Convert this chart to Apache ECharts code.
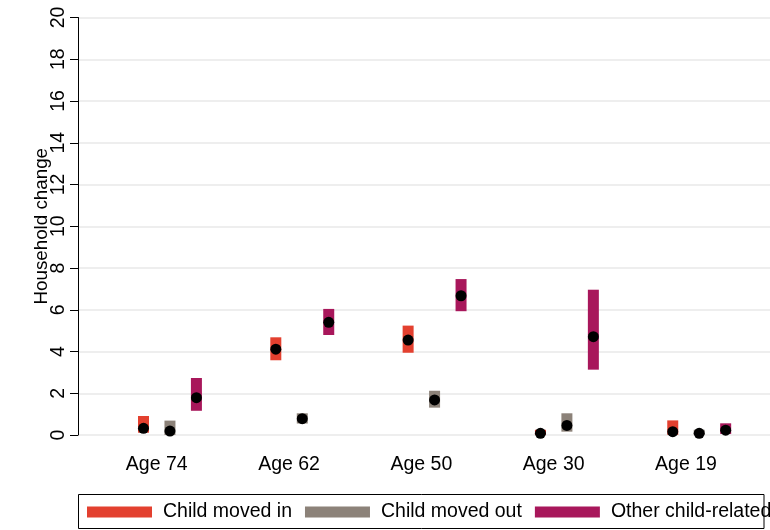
<!DOCTYPE html>
<html>
<head>
<meta charset="utf-8">
<script src="https://cdn.jsdelivr.net/npm/echarts@6/dist/echarts.min.js"></script>
<style>
  html, body { margin: 0; padding: 0; background: #fff; }
  #chart { width: 770px; height: 530px; }
</style>
</head>
<body>
<div id="chart"></div>
<script>
// Household change by age group: mean (dot) and confidence interval (bar)
const categories = ['Age 74', 'Age 62', 'Age 50', 'Age 30', 'Age 19'];
const seriesNames = ['Child moved in', 'Child moved out', 'Other child-related'];
const yTicks = [0, 20, 2]; // min, max, step

const movedInMean = [0.32, 4.11, 4.55, 0.08, 0.16];
const movedInLow  = [0.11, 3.58, 3.94, 0.00, 0.01];
const movedInHigh = [0.91, 4.68, 5.24, 0.25, 0.70];

const movedOutMean = [0.19, 0.78, 1.68, 0.46, 0.08];
const movedOutLow  = [0.00, 0.55, 1.31, 0.16, 0.00];
const movedOutHigh = [0.69, 1.04, 2.12, 1.04, 0.25];

const otherMean = [1.79, 5.40, 6.67, 4.71, 0.23];
const otherLow  = [1.16, 4.79, 5.93, 3.13, 0.05];
const otherHigh = [2.73, 6.04, 7.47, 6.96, 0.56];

const colors = ['#e3402f', '#8c8279', '#a8175b'];
const groups = [
  { mean: movedInMean, low: movedInLow, high: movedInHigh },
  { mean: movedOutMean, low: movedOutLow, high: movedOutHigh },
  { mean: otherMean, low: otherLow, high: otherHigh }
];
const offsets = [-0.2, 0, 0.2];
const labelShift = -0.1;
const FONT = 'Liberation Sans, Arial, Helvetica, sans-serif';

const series = [];
groups.forEach((g, s) => {
  series.push({
    name: seriesNames[s],
    type: 'custom',
    itemStyle: { color: colors[s] },
    data: categories.map((c, i) => [i + 1 + offsets[s], g.low[i], g.high[i]]),
    renderItem: function (params, api) {
      const x = api.value(0);
      const top = api.coord([x, api.value(2)]);
      const bot = api.coord([x, api.value(1)]);
      return {
        type: 'rect',
        shape: { x: top[0] - 5.5, y: top[1], width: 11, height: bot[1] - top[1] },
        style: { fill: api.visual('color') }
      };
    },
    z: 2
  });
});
groups.forEach((g, s) => {
  series.push({
    name: seriesNames[s] + ' mean',
    type: 'scatter',
    symbol: 'circle',
    symbolSize: 11,
    itemStyle: { color: '#000', opacity: 1 },
    data: categories.map((c, i) => [i + 1 + offsets[s], g.mean[i]]),
    z: 3
  });
});

const labelPositions = categories.map((c, i) => i + 1 + labelShift);

const chart = echarts.init(document.getElementById('chart'));
chart.setOption({
  animation: false,
  backgroundColor: '#fff',
  textStyle: { fontFamily: FONT, color: '#000' },
  grid: { left: 78, right: 0, top: 17.5, bottom: 95, containLabel: false },
  xAxis: {
    type: 'value',
    min: 0.305,
    max: 5.535,
    axisLine: { show: false },
    axisTick: { show: false },
    splitLine: { show: false },
    axisLabel: {
      customValues: labelPositions,
      formatter: v => categories[Math.round(v - labelShift) - 1],
      fontSize: 19.5,
      fontFamily: FONT,
      color: '#000',
      margin: 20
    }
  },
  yAxis: {
    type: 'value',
    min: yTicks[0],
    max: yTicks[1],
    interval: yTicks[2],
    name: 'Household change',
    nameLocation: 'middle',
    nameGap: 27,
    nameMoveOverlap: false,
    nameTextStyle: { fontSize: 18.8, fontFamily: FONT, color: '#000' },
    axisLine: { show: true, lineStyle: { color: '#000', width: 1 } },
    axisTick: { show: true, length: 8, lineStyle: { color: '#000', width: 1 } },
    axisLabel: { rotate: 90, fontSize: 19.5, fontFamily: FONT, color: '#000', margin: 9 },
    splitLine: { show: true, lineStyle: { color: '#e8e8e8', width: 1.5 } }
  },
  legend: {
    data: seriesNames,
    icon: 'rect',
    itemWidth: 65,
    itemHeight: 11,
    itemGap: 13,
    left: 87,
    top: 502,
    width: 2000,
    padding: 0,
    textStyle: { fontSize: 19.5, fontFamily: FONT, color: '#000', padding: [0, 0, 0, 6] }
  },
  graphic: [{
    type: 'rect',
    shape: { x: 78.5, y: 494.5, width: 685.5, height: 34 },
    style: { fill: null, stroke: '#000', lineWidth: 1 },
    z: 10
  }],
  series: series
});
</script>
</body>
</html>
